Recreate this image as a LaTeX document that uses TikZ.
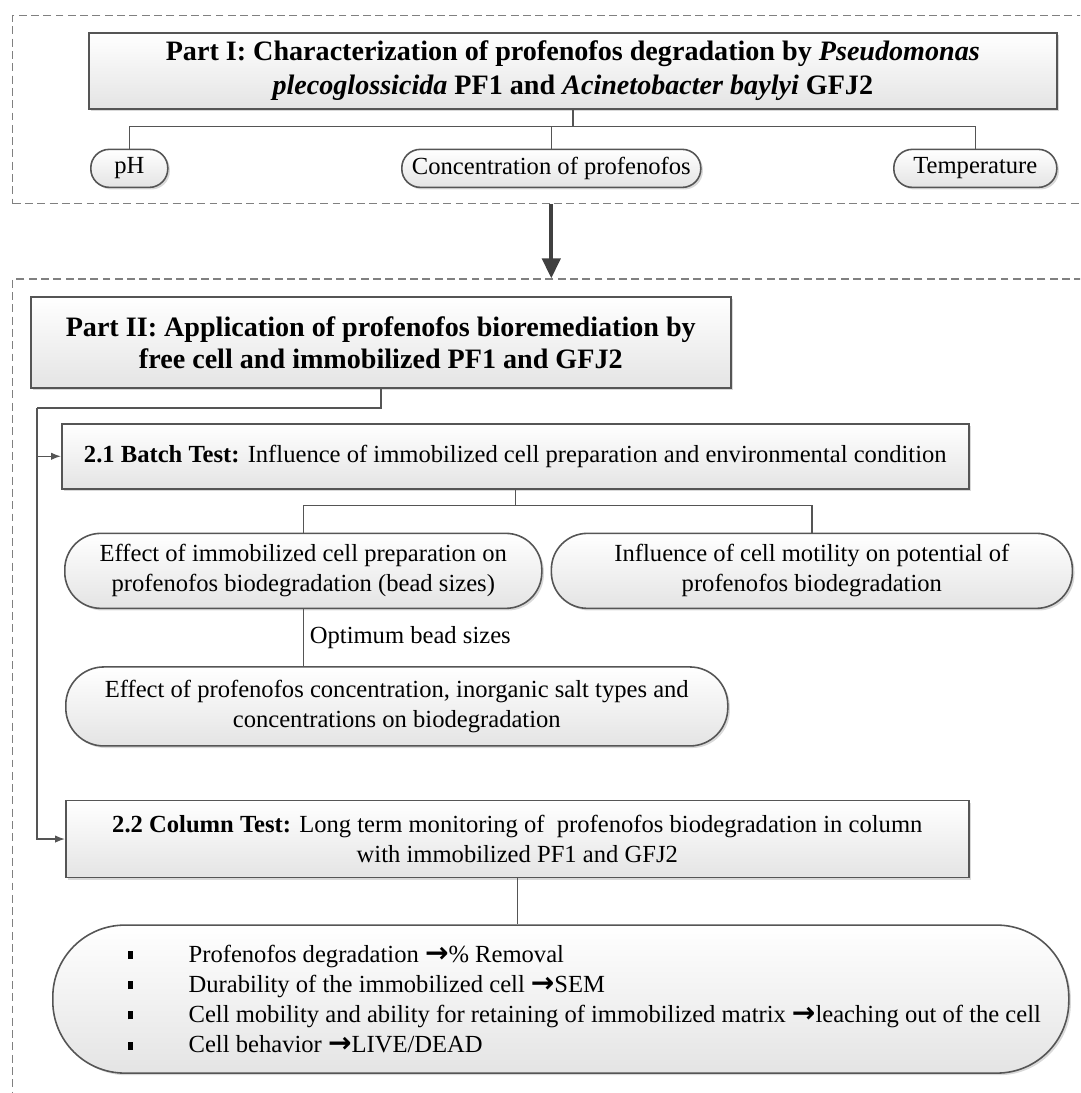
\documentclass[tikz,border=0pt]{standalone}
\usepackage{fontspec}
\setmainfont{Liberation Serif}
\newfontfamily\arrowfont{DejaVu Sans}
\usetikzlibrary{
    positioning,
    shadows,
    arrows.meta,
}
\definecolor{boxline}{HTML}{555555}
\definecolor{shadegray}{HTML}{E4E4E4}
\definecolor{framegray}{HTML}{808080}
\definecolor{arrowgray}{HTML}{404040}
\newcommand{\goesto}{{\arrowfont\bfseries\fontsize{16}{16}\selectfont →}}
\newcommand{\bul}{\makebox[2.16cm][l]{\hspace{0.94cm}\rule[0.3ex]{1.1mm}{1.6mm}}}
\tikzset{
    frame/.style={rectangle, draw=framegray, line width=0.8pt, dash pattern=on 4.5pt off 2.5pt},
    stage/.style={rectangle, draw=boxline, line width=0.9pt, top color=white, bottom color=shadegray, drop shadow={shadow xshift=1.2pt, shadow yshift=-1.2pt, opacity=0.3}, text centered, align=center, font=\fontsize{14}{17}\selectfont},
    head/.style={stage, font=\fontsize{16}{19.5}\selectfont\bfseries},
    pill/.style={stage, rounded corners=0.72cm},
    smallpill/.style={stage, rounded corners=0.37cm, minimum height=0.76cm, inner sep=1pt},
    note/.style={font=\fontsize{14}{17}\selectfont},
    link/.style={draw=boxline, line width=0.8pt},
    feed/.style={link, -{Latex[length=2mm, width=1.5mm]}},
    bigarrow/.style={draw=arrowgray, line width=2.4pt, -{Triangle[length=4mm, width=3.6mm]}},
}

\begin{document}
\begin{tikzpicture}
    \useasboundingbox (0,0) rectangle (21.6,-21.86);
    \clip (0,0) rectangle (21.6,-21.86);

    \node[frame, minimum width=22cm, minimum height=3.76cm, anchor=north west] (part1_frame) at (0.24,-0.30) {};

    \node[head, minimum width=19.36cm, minimum height=1.52cm, below right=0.34cm and 1.52cm of part1_frame.north west] (part1) {Part I: Characterization of profenofos degradation by \textit{Pseudomonas}\\ \textit{plecoglossicida} PF1 and \textit{Acinetobacter baylyi} GFJ2};

    \node[smallpill, minimum width=1.54cm, below right=0.78cm and 0.04cm of part1.south west] (ph) {pH};
    \node[smallpill, minimum width=5.98cm, below=0.78cm of part1, xshift=-0.43cm] (conc) {Concentration of profenofos};
    \node[smallpill, minimum width=3.26cm, below left=0.78cm and 0cm of part1.south east] (temp) {Temperature};

    \node[frame, minimum width=22cm, minimum height=17cm, below right=1.48cm and 0cm of part1_frame.south west] (part2_frame) {};

    \node[head, font=\fontsize{16}{18.5}\selectfont\bfseries, minimum width=14cm, minimum height=1.82cm, below right=0.36cm and 0.36cm of part2_frame.north west] (part2) {Part II: Application of profenofos bioremediation by\\ free cell and immobilized PF1 and GFJ2};

    \node[stage, minimum width=18.14cm, minimum height=1.3cm, below right=0.68cm and 0.62cm of part2.south west] (batch) {\textbf{2.1 Batch Test:} Influence of immobilized cell preparation and environmental condition};

    \node[pill, minimum width=9.54cm, minimum height=1.5cm, below right=0.86cm and 0.06cm of batch.south west] (bead_size) {Effect of immobilized cell preparation on\\ profenofos biodegradation (bead sizes)};
    \node[pill, minimum width=10.42cm, minimum height=1.5cm, right=0.16cm of bead_size] (motility) {Influence of cell motility on potential of\\ profenofos biodegradation};

    \node[pill, rounded corners=0.76cm, minimum width=13.24cm, minimum height=1.58cm, below right=1.14cm and 0.02cm of bead_size.south west] (salt_conc) {Effect of profenofos concentration, inorganic salt types and\\ concentrations on biodegradation};

    \node[stage, minimum width=18.06cm, minimum height=1.54cm, below right=1.06cm and 0cm of salt_conc.south west] (column) {\textbf{2.2 Column Test:} Long term monitoring of~ profenofos biodegradation in column\\ with immobilized PF1 and GFJ2};

    \node[pill, rounded corners=1.44cm, align=left, font=\fontsize{14}{17.2}\selectfont, minimum width=20.32cm, minimum height=2.96cm, below right=0.92cm and -0.26cm of column.south west] (outcome) {\bul Profenofos degradation \goesto\% Removal\\ \bul Durability of the immobilized cell \goesto SEM\\ \bul Cell mobility and ability for retaining of immobilized matrix \goesto leaching out of the cell\\ \bul Cell behavior \goesto LIVE/DEAD};

    % ===== CONNECTIONS =====
    \coordinate (part1_bus) at ([yshift=-0.34cm]part1.south);
    \draw[link] (part1) -- (part1_bus);
    \draw[link] (part1_bus) -| (ph);
    \draw[link] (part1_bus) -| (temp);
    \draw[link] (conc) |- (part1_bus);

    \draw[bigarrow] (part1_frame.south -| conc) -- (part2_frame.north -| conc);

    \coordinate (rail) at ([xshift=0.5cm, yshift=-0.38cm]part2.south -| part2_frame.west);
    \draw[link] (part2) |- (rail);
    \draw[feed] (rail) |- (batch);
    \draw[feed] (rail) |- (column);

    \coordinate (batch_bus) at ([yshift=-0.32cm]batch.south);
    \draw[link] (batch) -- (batch_bus);
    \draw[link] (batch_bus) -| (bead_size);
    \draw[link] (batch_bus) -| (motility);

    \draw[link] (bead_size) -- node[note, right] (bead_note) {Optimum bead sizes} (bead_size |- salt_conc.north);

    \draw[link] (column) -- (column |- outcome.north);

\end{tikzpicture}
\end{document}
